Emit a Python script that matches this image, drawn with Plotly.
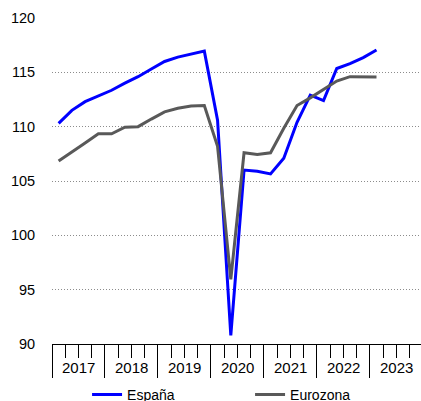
import plotly.graph_objects as go

# Quarterly index, 2017 Q1 - 2023 Q1
quarters = [f"{y}T{q}" for y in range(2017, 2024) for q in range(1, 5)][:25]
espana = [110.3, 111.5, 112.3, 112.8, 113.35, 114.0, 114.6, 115.3, 116.0, 116.4, 116.7, 116.95,
          110.6, 90.8, 106.0, 105.9, 105.65, 107.1, 110.4, 112.9, 112.4, 115.35, 115.8, 116.35, 117.05]
eurozona = [106.83, 107.7, 108.5, 109.35, 109.35, 109.95, 110.0, 110.7, 111.36, 111.7, 111.9, 111.95,
            108.2, 95.95, 107.6, 107.45, 107.6, 109.85, 111.95, 112.65, 113.4, 114.2, 114.6, 114.6, 114.58]
years = [2017, 2018, 2019, 2020, 2021, 2022, 2023]
y_ticks = [90, 95, 100, 105, 110, 115, 120]

# quarter labels -> position at the middle of each quarter on a year scale
def qpos(label):
    y, q = label.split("T")
    return int(y) + (int(q) - 0.5) / 4

x = [qpos(q) for q in quarters]

FONT = "Liberation Sans, Arial, sans-serif"

fig = go.Figure()
fig.add_trace(go.Scatter(x=x, y=espana, name="España", mode="lines",
                         line=dict(color="#0000FF", width=3)))
fig.add_trace(go.Scatter(x=x, y=eurozona, name="Eurozona", mode="lines",
                         line=dict(color="#595959", width=3)))

# year labels centred under each year block
for yr in years:
    fig.add_annotation(x=yr + 0.5, y=-0.073, xref="x", yref="paper", text=str(yr),
                       showarrow=False, yanchor="middle", xanchor="center",
                       font=dict(family=FONT, size=15, color="#000000"))

fig.update_layout(
    width=421, height=401,
    margin=dict(l=52, r=0, t=18, b=57, autoexpand=False),
    paper_bgcolor="white", plot_bgcolor="white",
    font=dict(family=FONT, size=14, color="#000000"),
    showlegend=True,
    legend=dict(orientation="h", x=0.095, xanchor="left", y=-0.107, yanchor="top",
                font=dict(family=FONT, size=14, color="#000000"),
                entrywidth=118, bgcolor="rgba(0,0,0,0)"),
    xaxis=dict(
        range=[2017, 2023.965],
        tickmode="array", tickvals=[yr for yr in years] + [years[-1] + 1], ticktext=[""] * (len(years) + 1),
        ticks="outside", ticklen=33, tickwidth=1, tickcolor="#000000",
        minor=dict(tickmode="array",
                   tickvals=[yr + k / 4 for yr in years for k in range(1, 4)],
                   ticks="outside", ticklen=13, tickwidth=1, tickcolor="#000000", showgrid=False),
        showgrid=False, showline=True, linecolor="#000000", linewidth=1, zeroline=False,
    ),
    yaxis=dict(
        range=[90, 120], tickmode="array", tickvals=y_ticks,
        ticks="outside", ticklen=13, tickcolor="rgba(0,0,0,0)",
        tickfont=dict(family=FONT, size=14.5, color="#000000"),
        showgrid=True, gridcolor="#8c8c8c", gridwidth=1, griddash="1px,2px",
        showline=False, zeroline=False,
    ),
)

fig.write_html("out.html")
